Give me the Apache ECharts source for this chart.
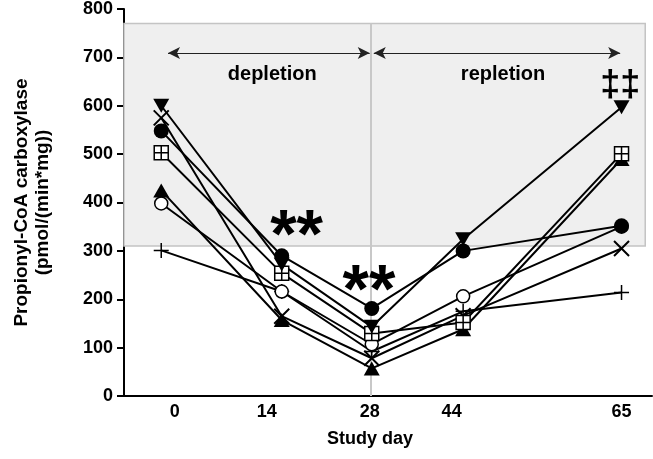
<!DOCTYPE html>
<html>
<head>
<meta charset="utf-8">
<script src="https://cdn.jsdelivr.net/npm/echarts@6/dist/echarts.min.js"></script>
<style>
html,body{margin:0;padding:0;background:#fff;}
#chart{width:653px;height:459px;}
</style>
</head>
<body>
<div id="chart"></div>
<script>
// x tick labels (study day) and where they are printed along the day axis
const dayLabels = ['0', '14', '28', '44', '65'];
const dayLabelPos = [-1, 12.6, 27.8, 39.9, 65];
// sampling positions of the measurements along the day axis
const sampleDays = [-3, 14.8, 28.1, 41.6, 65];

// individual subjects
const subjDown   = [600, 272, 143, 324, 597];   // ▼
const subjCross  = [575, 165, 78, 166, 305];    // ×
const subjDot    = [548, 290, 181, 300, 352];   // ●
const subjBox    = [503, 254, 129, 152, 501];   // ⊞
const subjUp     = [425, 157, 57, 138, 490];    // ▲
const subjRing   = [398, 216, 107, 206, 350];   // ○
const subjPlus   = [301, 216, 92, 175, 214];    // +

const yTicks = [0, 100, 200, 300, 400, 500, 600, 700, 800];

// annotations
const annotText = ['**', '**', '‡‡'];
const annotDay = [17, 27.7, 64.8];
const annotVal = [326, 212, 641];
const annotSize = [68, 68, 36];
const phaseText = ['depletion', 'repletion'];
const phaseDay = [13.4, 47.5];
const phaseVal = 664;

const FONT = 'Liberation Sans, Arial, sans-serif';

function pts(vals) { return vals.map((v, i) => [sampleDays[i], v]); }

const symBox = 'path://M0,0L10,0L10,10L0,10Z M5,0L5,10 M0,5L10,5';
const symCross = 'path://M0,0L10,10 M10,0L0,10';
const symPlus = 'path://M5,0L5,10 M0,5L10,5';

function lineSeries(name, vals, symbol, opts) {
  return Object.assign({
    name: name,
    type: 'line',
    data: pts(vals),
    symbol: symbol,
    symbolSize: 13,
    showAllSymbol: true,
    lineStyle: { color: '#000', width: 2 },
    itemStyle: { color: '#000', borderColor: '#000', borderWidth: 0 },
    z: 5,
    animation: false
  }, opts || {});
}

const chart = echarts.init(document.getElementById('chart'), null, { renderer: 'canvas' });

const option = {
  animation: false,
  grid: { left: 124, right: 1, top: 8, bottom: 63 },
  xAxis: {
    type: 'value',
    min: -8.5, max: 69.5,
    name: 'Study day',
    nameLocation: 'middle',
    nameGap: 34,
    nameTextStyle: { fontFamily: FONT, fontWeight: 'bold', fontSize: 18, color: '#000', padding: [0, 36, 0, 0] },
    axisLine: { show: true, onZero: false, lineStyle: { color: '#000', width: 2 } },
    axisTick: { show: false },
    splitLine: { show: false },
    axisLabel: {
      customValues: dayLabelPos,
      margin: 7,
      fontFamily: FONT, fontWeight: 'bold', fontSize: 18, color: '#000',
      formatter: function (v) {
        let best = 0, bd = Infinity;
        dayLabelPos.forEach((p, i) => { const d = Math.abs(p - v); if (d < bd) { bd = d; best = i; } });
        return dayLabels[best];
      }
    }
  },
  yAxis: {
    type: 'value',
    min: 0, max: 800, interval: 100,
    name: 'Propionyl-CoA carboxylase\n(pmol/(min*mg))',
    nameLocation: 'middle',
    nameGap: 71,
    nameTextStyle: { fontFamily: FONT, fontWeight: 'bold', fontSize: 19, color: '#000', lineHeight: 21 },
    axisLine: { show: true, onZero: false, lineStyle: { color: '#000', width: 2 } },
    axisTick: { show: true, inside: false, length: 7, lineStyle: { color: '#000', width: 2 } },
    splitLine: { show: false },
    axisLabel: {
      margin: 11,
      fontFamily: FONT, fontWeight: 'bold', fontSize: 18, color: '#000',
      customValues: yTicks
    }
  },
  series: [
    {
      name: 'frame',
      type: 'line',
      data: [],
      silent: true,
      markArea: {
        silent: true,
        itemStyle: { color: '#efefef', borderColor: '#c4c4c4', borderWidth: 1.5 },
        data: [[{ coord: [-8.5, 310] }, { coord: [68.5, 770] }]]
      },
      markLine: {
        silent: true,
        symbol: ['none', 'none'],
        label: { show: false },
        lineStyle: { color: '#c8c8c8', width: 2, type: 'solid' },
        data: [[{ coord: [28, 0] }, { coord: [28, 770] }]]
      },
      z: 1
    },
    {
      name: 'phases',
      type: 'line',
      data: [],
      silent: true,
      markLine: {
        silent: true,
        symbol: ['arrow', 'arrow'],
        symbolSize: [9, 12],
        label: { show: false },
        lineStyle: { color: '#222', width: 1, type: 'solid' },
        data: [
          [{ coord: [-2.0, 709] }, { coord: [27.8, 709] }],
          [{ coord: [28.4, 709] }, { coord: [64.8, 709] }]
        ]
      },
      z: 2
    },
    {
      name: 'phaseLabels',
      type: 'scatter',
      symbolSize: 0,
      silent: true,
      itemStyle: { color: '#000', opacity: 1 },
      data: phaseText.map((t, i) => [phaseDay[i], phaseVal, t]),
      label: {
        show: true, position: 'inside',
        formatter: p => p.data[2],
        fontFamily: FONT, fontWeight: 'bold', fontSize: 20, color: '#000',
        textBorderWidth: 0
      },
      z: 3
    },
    lineSeries('plus', subjPlus, symPlus, { symbolSize: 15, itemStyle: { color: '#000', borderColor: '#000', borderWidth: 1.5 } }),
    lineSeries('cross', subjCross, symCross, { symbolSize: 15, itemStyle: { color: '#000', borderColor: '#000', borderWidth: 2 } }),
    lineSeries('ring', subjRing, 'circle', { symbolSize: 13, itemStyle: { color: '#fff', borderColor: '#000', borderWidth: 1.5 } }),
    lineSeries('up', subjUp, 'triangle', { symbolSize: [16, 14] }),
    lineSeries('box', subjBox, symBox, { symbolSize: 14, itemStyle: { color: '#fff', borderColor: '#000', borderWidth: 1.5 } }),
    lineSeries('down', subjDown, 'triangle', { symbolSize: [16, 14], symbolRotate: 180 }),
    lineSeries('dot', subjDot, 'circle', { symbolSize: 15 }),
    {
      name: 'annotations',
      type: 'scatter',
      symbolSize: 0,
      silent: true,
      itemStyle: { color: '#000', opacity: 1 },
      data: annotText.map((t, i) => ({
        value: [annotDay[i], annotVal[i]],
        label: { formatter: t, fontSize: annotSize[i], color: '#000', textBorderWidth: 0 }
      })),
      label: {
        show: true, position: 'inside',
        fontFamily: FONT, fontWeight: 'bold', color: '#000', textBorderWidth: 0
      },
      z: 10
    }
  ]
};
chart.setOption(option);
</script>
</body>
</html>
